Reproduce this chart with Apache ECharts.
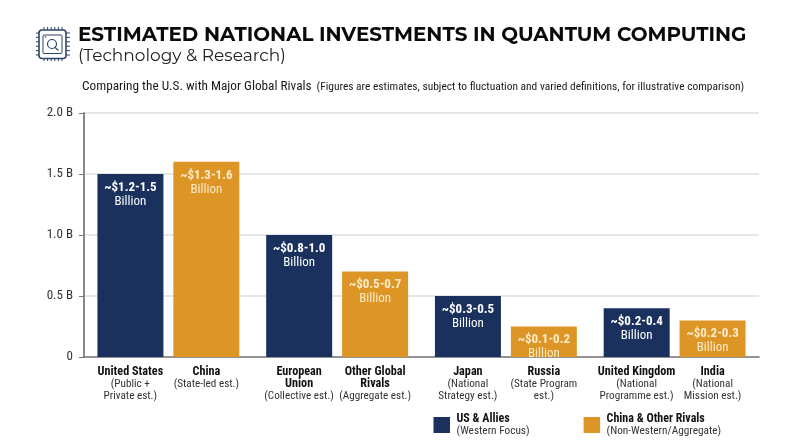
<!DOCTYPE html>
<html>
<head>
<meta charset="utf-8">
<style>
  html, body { margin: 0; padding: 0; background: #fff; }
  #chart { width: 800px; height: 447px; }
</style>
<script src="https://cdn.jsdelivr.net/npm/echarts@6/dist/echarts.min.js"></script>
</head>
<body>
<div id="chart"></div>
<script>
const NARROW = '"Roboto Condensed", Roboto, sans-serif';
const WIDE = 'Montserrat, Inter, sans-serif';

const pairs = ["a", "b", "c", "d"];
const alliesNames = ["United States", "European\nUnion", "Japan", "United Kingdom"];
const alliesNotes = ["(Public +\nPrivate est.)", "(Collective est.)", "(National\nStrategy est.)", "(National\nProgramme est.)"];
const rivalsNames = ["China", "Other Global\nRivals", "Russia", "India"];
const rivalsNotes = ["(State-led est.)", "(Aggregate est.)", "(State Program\nest.)", "(National\nMission est.)"];
const alliesValues = [1.5, 1.0, 0.5, 0.4];
const rivalsValues = [1.6, 0.7, 0.25, 0.3];
const alliesRanges = ["~$1.2-1.5", "~$0.8-1.0", "~$0.3-0.5", "~$0.2-0.4"];
const rivalsRanges = ["~$1.3-1.6", "~$0.5-0.7", "~$0.1-0.2", "~$0.2-0.3"];
const yTicks = { 0: "0", 0.5: "0.5 B", 1: "1.0 B", 1.5: "1.5 B", 2: "2.0 B" };

const NAVY = "#1a315e";
const GOLD = "#dd9526";

const chart = echarts.init(document.getElementById("chart"));

function bold(s) {
  return s.split("\n").map((l) => "{b|" + l + "}").join("\n");
}
function note(s) {
  return s.split("\n").map((l) => "{n|" + l + "}").join("\n");
}
function nameLabel(names, notes) {
  return (v, i) => bold(names[i]) + "\n" + note(notes[i]);
}
const catRich = {
  b: { fontFamily: NARROW, fontSize: 12.2, fontWeight: "bold", color: "#111", lineHeight: 12 },
  n: { fontFamily: NARROW, fontSize: 11.2, fontWeight: "normal", color: "#333", lineHeight: 12 },
};

function barSeries(name, values, ranges, color, textColor) {
  return {
    name: name,
    type: "bar",
    data: values,
    barWidth: 66,
    barGap: "15%",
    itemStyle: { color: color },
    label: {
      show: true,
      position: "insideTop",
      distance: 6.5,
      formatter: (p) => "{r|" + ranges[p.dataIndex] + "}\n{u|Billion}",
      rich: {
        r: { fontFamily: NARROW, fontSize: 13, fontWeight: "bold", color: textColor, lineHeight: 14 },
        u: { fontFamily: NARROW, fontSize: 13, fontWeight: "normal", color: textColor, lineHeight: 14 },
      },
    },
  };
}

// little chip icon next to the title
const chipIcon = [];
for (let i = 0; i < 6; i++) {
  const px = 44 + i * 3.6;
  const py = 33 + i * 4.4;
  chipIcon.push({ type: "line", shape: { x1: px, y1: 27, x2: px, y2: 61 }, style: { stroke: "#2c4468", lineWidth: 1 } });
  chipIcon.push({ type: "line", shape: { x1: 36, y1: py, x2: 70, y2: py }, style: { stroke: "#2c4468", lineWidth: 1 } });
}
chipIcon.push({ type: "rect", shape: { x: 39, y: 30, width: 27, height: 28.5, r: 3 }, style: { fill: "#fff", stroke: "#2c4468", lineWidth: 1.6 } });
chipIcon.push({ type: "rect", shape: { x: 43, y: 35, width: 19, height: 18.5, r: 1 }, style: { fill: "#fff", stroke: "#2c4468", lineWidth: 1 } });
chipIcon.push({ type: "circle", shape: { cx: 52, cy: 44, r: 4.5 }, style: { fill: "none", stroke: "#2c4468", lineWidth: 1.2 } });
chipIcon.push({ type: "line", shape: { x1: 54.5, y1: 47, x2: 58.5, y2: 50.5 }, style: { stroke: "#2c4468", lineWidth: 1.2 } });
chipIcon.push({ type: "circle", shape: { cx: 45.5, cy: 37, r: 0.8 }, style: { fill: "#2c4468" } });

const option = {
  animation: false,
  backgroundColor: "#fff",
  title: [
    {
      text: "ESTIMATED NATIONAL INVESTMENTS IN QUANTUM COMPUTING",
      left: 78,
      top: 25,
      padding: 0,
      textStyle: { fontFamily: WIDE, fontSize: 19.9, fontWeight: 700, color: "#0a0a0a" },
    },
    {
      text: "(Technology & Research)",
      left: 78,
      top: 47,
      padding: 0,
      textStyle: { fontFamily: WIDE, fontSize: 17, fontWeight: 400, color: "#222" },
    },
    {
      text: "{m|Comparing the U.S. with Major Global Rivals} {s|(Figures are estimates, subject to fluctuation and varied definitions, for illustrative comparison)}",
      left: 82,
      top: 78,
      padding: 0,
      textStyle: {
        rich: {
          m: { fontFamily: NARROW, fontSize: 13.25, fontWeight: "normal", color: "#1a1a1a" },
          s: { fontFamily: NARROW, fontSize: 11.45, fontWeight: "normal", color: "#1a1a1a" },
        },
      },
    },
  ],
  legend: {
    left: 433.5,
    top: 412.5,
    padding: 0,
    itemWidth: 16.5,
    itemHeight: 16,
    itemGap: 54,
    icon: "rect",
    selectedMode: false,
    formatter: (n) =>
      n === "US & Allies"
        ? "{b|US & Allies}\n{n|(Western Focus)}"
        : "{b|China & Other Rivals}\n{n|(Non-Western/Aggregate)}",
    textStyle: {
      rich: {
        b: { fontFamily: NARROW, fontSize: 12, fontWeight: "bold", color: "#111", lineHeight: 13, padding: [0, 0, 0, 1.5] },
        n: { fontFamily: NARROW, fontSize: 11.3, fontWeight: "normal", color: "#333", lineHeight: 13, padding: [0, 0, 0, 1.5] },
      },
    },
  },
  grid: { left: 84, right: 41, top: 113, bottom: 90 },
  xAxis: [
    {
      type: "category",
      data: pairs,
      axisLine: { lineStyle: { color: "#777", width: 1.5 } },
      axisTick: { show: false },
      axisLabel: {
        interval: 0,
        margin: 9,
        verticalAlign: "top",
        padding: [0, 76, 0, 0],
        formatter: nameLabel(alliesNames, alliesNotes),
        rich: catRich,
      },
    },
    {
      type: "category",
      position: "bottom",
      data: pairs,
      axisLine: { show: false },
      axisTick: { show: false },
      axisLabel: {
        interval: 0,
        margin: 9,
        verticalAlign: "top",
        padding: [0, 0, 0, 76],
        formatter: nameLabel(rivalsNames, rivalsNotes),
        rich: catRich,
      },
    },
  ],
  yAxis: {
    type: "value",
    min: 0,
    max: 2,
    interval: 0.5,
    axisLine: { show: true, lineStyle: { color: "#888", width: 2 } },
    axisTick: { show: true, length: 5, lineStyle: { color: "#777", width: 1 } },
    axisLabel: {
      margin: 11,
      fontFamily: NARROW,
      fontSize: 13,
      color: "#333",
      formatter: (v) => yTicks[v],
    },
    splitLine: { lineStyle: { color: "#e6e6e6", width: 2 } },
  },
  series: [
    barSeries("US & Allies", alliesValues, alliesRanges, NAVY, "#fff"),
    barSeries("China & Other Rivals", rivalsValues, rivalsRanges, GOLD, "#fdeccb"),
  ],
  graphic: [{ type: "group", silent: true, children: chipIcon }],
};

chart.setOption(option);
</script>
</body>
</html>
